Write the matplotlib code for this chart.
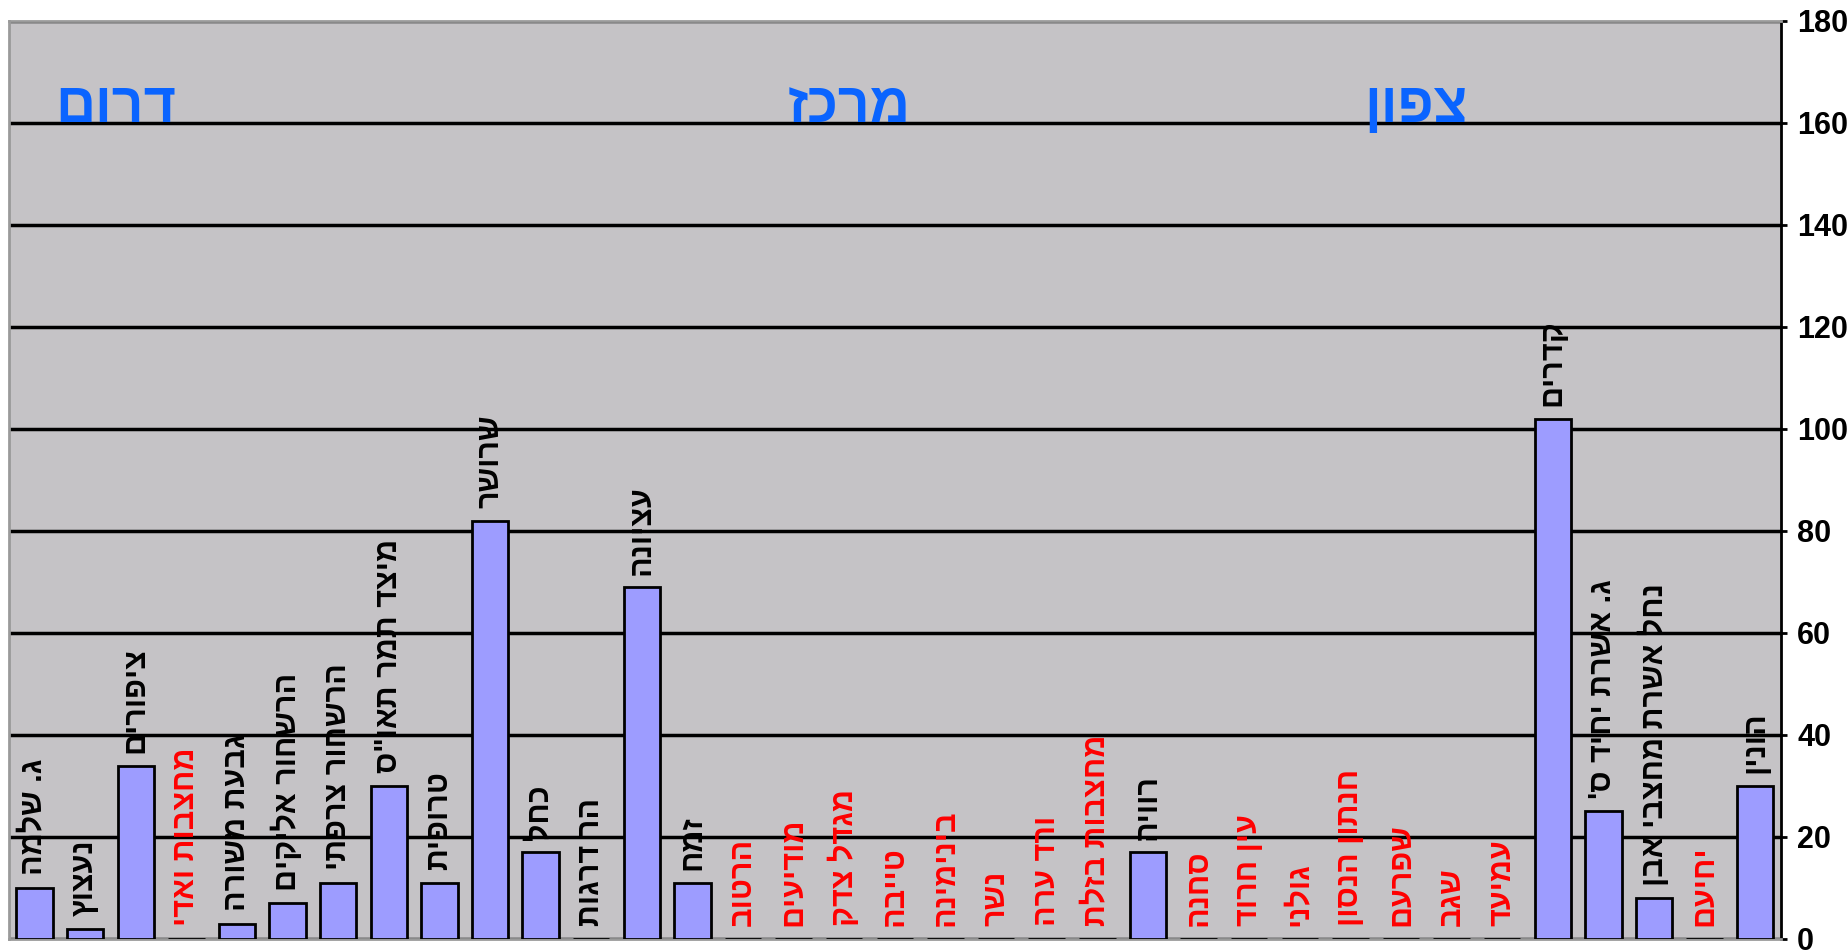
import matplotlib
matplotlib.use("Agg")
import matplotlib.pyplot as plt

# site names, left to right (logical Hebrew order)
sites = ["ג. שלמה", "נעצוץ", "ציפורים", "מחצבות ואדי", "גבעת משורה",
         "הרשחור אליקים", "הרשחור צרפתי", 'מיצד תמר תאו"ס', "טרופית", "שרושר",
         "כחל", "הר דרגות", "עציונה", "זמח", "הרטוב",
         "מודיעים", "מגדל צדק", "טייבה", "בינימינה", "נשר",
         "ורד ערה", "מחצבות בזלת", "רוויה", "סחנה", "עין חרוד",
         "גולני", "חנתון הנסון", "שפרעם", "שגב", "עמיעד",
         "קדרים", "ג. אשרת יחיד ס'", "נחל אשרת מחצבי אבן", "יחיעם", "הונין"]
values = [10, 2, 34, 0, 3, 7, 11, 30, 11, 82,
          17, 0, 69, 11, 0, 0, 0, 0, 0, 0,
          0, 0, 17, 0, 0, 0, 0, 0, 0, 0,
          102, 25, 8, 0, 30]
# sites with no data are shown in red
no_data = [0, 0, 0, 1, 0, 0, 0, 0, 0, 0,
           0, 0, 0, 0, 1, 1, 1, 1, 1, 1,
           1, 1, 0, 1, 1, 1, 1, 1, 1, 1,
           0, 0, 0, 1, 0]
regions = ["דרום", "מרכז", "צפון"]
region_x = [1.6, 16.1, 27.3]
yticks = list(range(0, 181, 20))

HEB = ["Liberation Sans", "DejaVu Sans"]


def vis(s):
    # matplotlib has no bidi support, so flip the Hebrew string
    return s[::-1]


fig = plt.figure(figsize=(18.47, 9.5), dpi=100)
ax = fig.add_axes([0.005, 0.0116, 0.959, 0.9663])
ax.set_facecolor("#c5c3c6")

x = list(range(len(sites)))
ax.bar(x, values, width=0.72, color="#9d9cff", edgecolor="black", linewidth=2, zorder=3)

for i, (name, v, nd) in enumerate(zip(sites, values, no_data)):
    ax.annotate(vis(name), (i, v), xytext=(0, 9), textcoords="offset points",
                rotation=90, ha="center", va="bottom", fontsize=22, fontweight="bold",
                color="red" if nd else "black", family=HEB, zorder=4)

for name, rx in zip(regions, region_x):
    ax.text(rx, 163, vis(name), ha="center", va="center", fontsize=40,
            fontweight="bold", color="#0a64ff", family=HEB, zorder=4)

ax.set_xlim(-0.5, len(sites) - 0.5)
ax.set_ylim(0, 180)
ax.set_xticks([])
ax.yaxis.tick_right()
ax.set_yticks(yticks)
ax.set_yticklabels([str(t) for t in yticks], fontsize=22, fontweight="bold", family="Liberation Sans")
ax.tick_params(axis="y", length=4, width=2, pad=8)
ax.grid(axis="y", color="black", linewidth=2.5, zorder=1)

for side in ["left", "top", "bottom"]:
    ax.spines[side].set_color("#9a9a9a")
    ax.spines[side].set_linewidth(2)
ax.spines["right"].set_color("black")
ax.spines["right"].set_linewidth(2)

fig.savefig("out.png", dpi=100, facecolor="white")
